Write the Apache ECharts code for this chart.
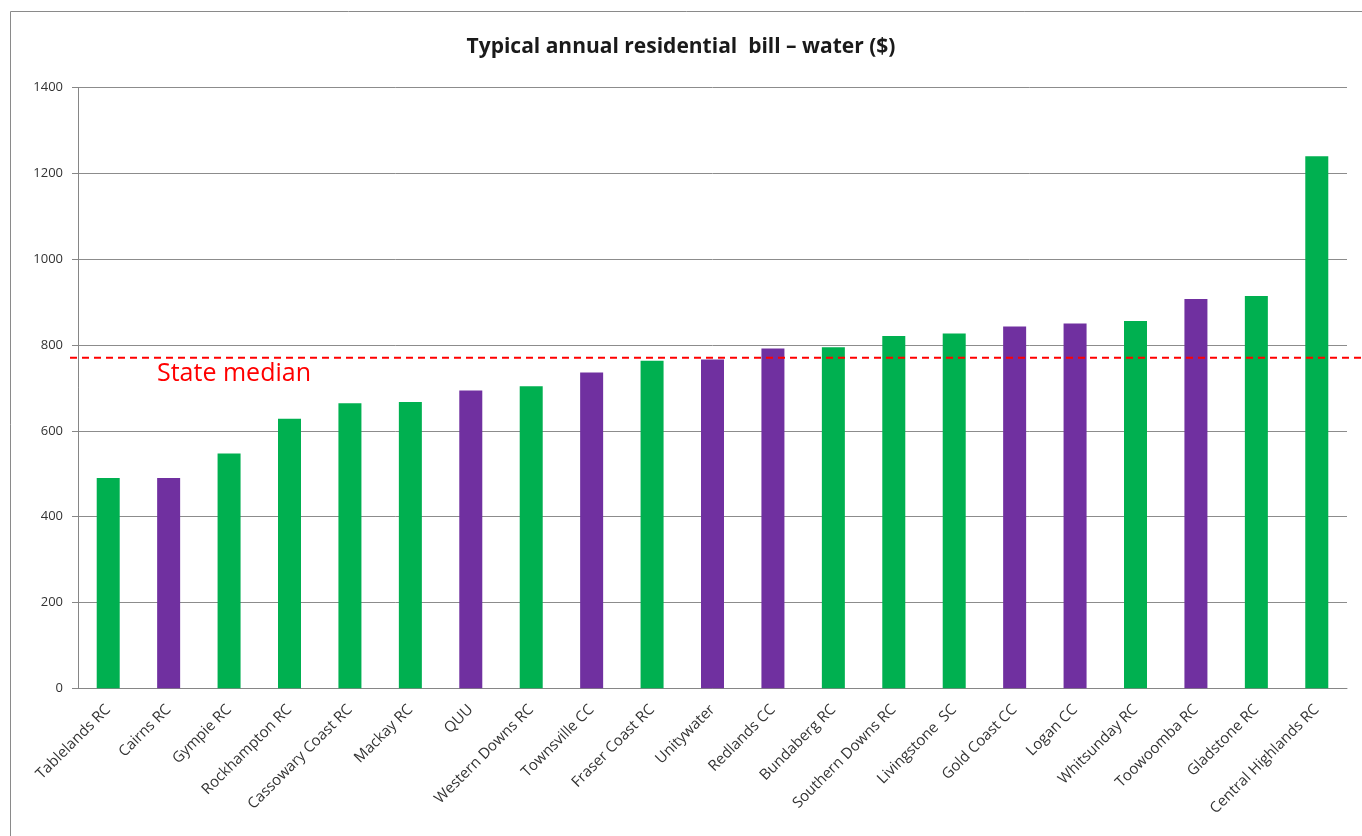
<!DOCTYPE html>
<html>
<head>
<meta charset="utf-8">
<script src="https://cdn.jsdelivr.net/npm/echarts@6/dist/echarts.min.js"></script>
<style>
  html, body { margin: 0; padding: 0; background: #fff; }
  #chart { width: 1362px; height: 836px; }
</style>
</head>
<body>
<div id="chart"></div>
<script>
// councils, sorted by bill
const councils = ['Tablelands RC', 'Cairns RC', 'Gympie RC', 'Rockhampton RC', 'Cassowary Coast RC',
  'Mackay RC', 'QUU', 'Western Downs RC', 'Townsville CC', 'Fraser Coast RC', 'Unitywater',
  'Redlands CC', 'Bundaberg RC', 'Southern Downs RC', 'Livingstone  SC', 'Gold Coast CC',
  'Logan CC', 'Whitsunday RC', 'Toowoomba RC', 'Gladstone RC', 'Central Highlands RC'];
const bill = [490, 490, 547, 628, 664, 667, 694, 704, 736, 763, 766,
  792, 795, 821, 827, 843, 850, 856, 907, 914, 1240];
// group of each council: 'A' drawn green, 'B' drawn purple
const group = ['A', 'B', 'A', 'A', 'A', 'A', 'B', 'A', 'B', 'A', 'B',
  'B', 'A', 'A', 'A', 'B', 'B', 'A', 'B', 'A', 'A'];
const stateMedian = 770;
const yTicks = [0, 200, 400, 600, 800, 1000, 1200, 1400];

const groupColor = { A: '#00B050', B: '#7030A0' };
const font = '"Open Sans", "Liberation Sans", sans-serif';

const chart = echarts.init(document.getElementById('chart'));

const option = {
  animation: false,
  title: {
    text: 'Typical annual residential  bill \u2013 water ($)',
    left: 'center',
    top: 32,
    textStyle: { fontFamily: font, fontSize: 21, fontWeight: 'bold', color: '#1a1a1a' }
  },
  grid: { left: 78, right: 15, top: 87.5, bottom: 147.7 },
  xAxis: {
    type: 'category',
    data: councils,
    axisLine: { lineStyle: { color: '#868686' } },
    axisTick: { alignWithLabel: false, length: 6, lineStyle: { color: '#868686' } },
    axisLabel: {
      rotate: 45,
      margin: 19,
      interval: 0,
      fontFamily: font,
      fontSize: 15,
      color: '#333'
    }
  },
  yAxis: {
    type: 'value',
    min: yTicks[0],
    max: yTicks[yTicks.length - 1],
    interval: 200,
    axisLine: { show: true, lineStyle: { color: '#868686' } },
    axisTick: { show: true, length: 6, lineStyle: { color: '#868686' } },
    axisLabel: {
      margin: 15,
      fontFamily: font,
      fontSize: 13,
      color: '#333',
      formatter: v => String(v)
    },
    splitLine: { lineStyle: { color: '#8c8c8c', width: 1 } }
  },
  series: [{
    type: 'bar',
    barWidth: 23,
    data: bill.map((v, i) => ({ value: v, itemStyle: { color: groupColor[group[i]] } }))
  }]
};

chart.setOption(option);

// state median line runs a little beyond the plot, so draw it from the y scale
const yMed = chart.convertToPixel({ yAxisIndex: 0 }, stateMedian);
chart.setOption({
  graphic: [
    {
      type: 'rect',
      shape: { x: 10.5, y: 11.5, width: 1400, height: 900 },
      style: { fill: null, stroke: '#8a8a8a', lineWidth: 1 },
      silent: true
    },
    {
      type: 'line',
      shape: { x1: 70, y1: yMed, x2: 1362, y2: yMed },
      style: { stroke: '#ff0000', lineWidth: 2, lineDash: [7, 5] },
      z: 10
    },
    {
      type: 'text',
      left: 157,
      top: yMed + 4,
      style: { text: 'State median', fill: '#ff0000', font: '25px ' + font },
      z: 10
    }
  ]
});
</script>
</body>
</html>
